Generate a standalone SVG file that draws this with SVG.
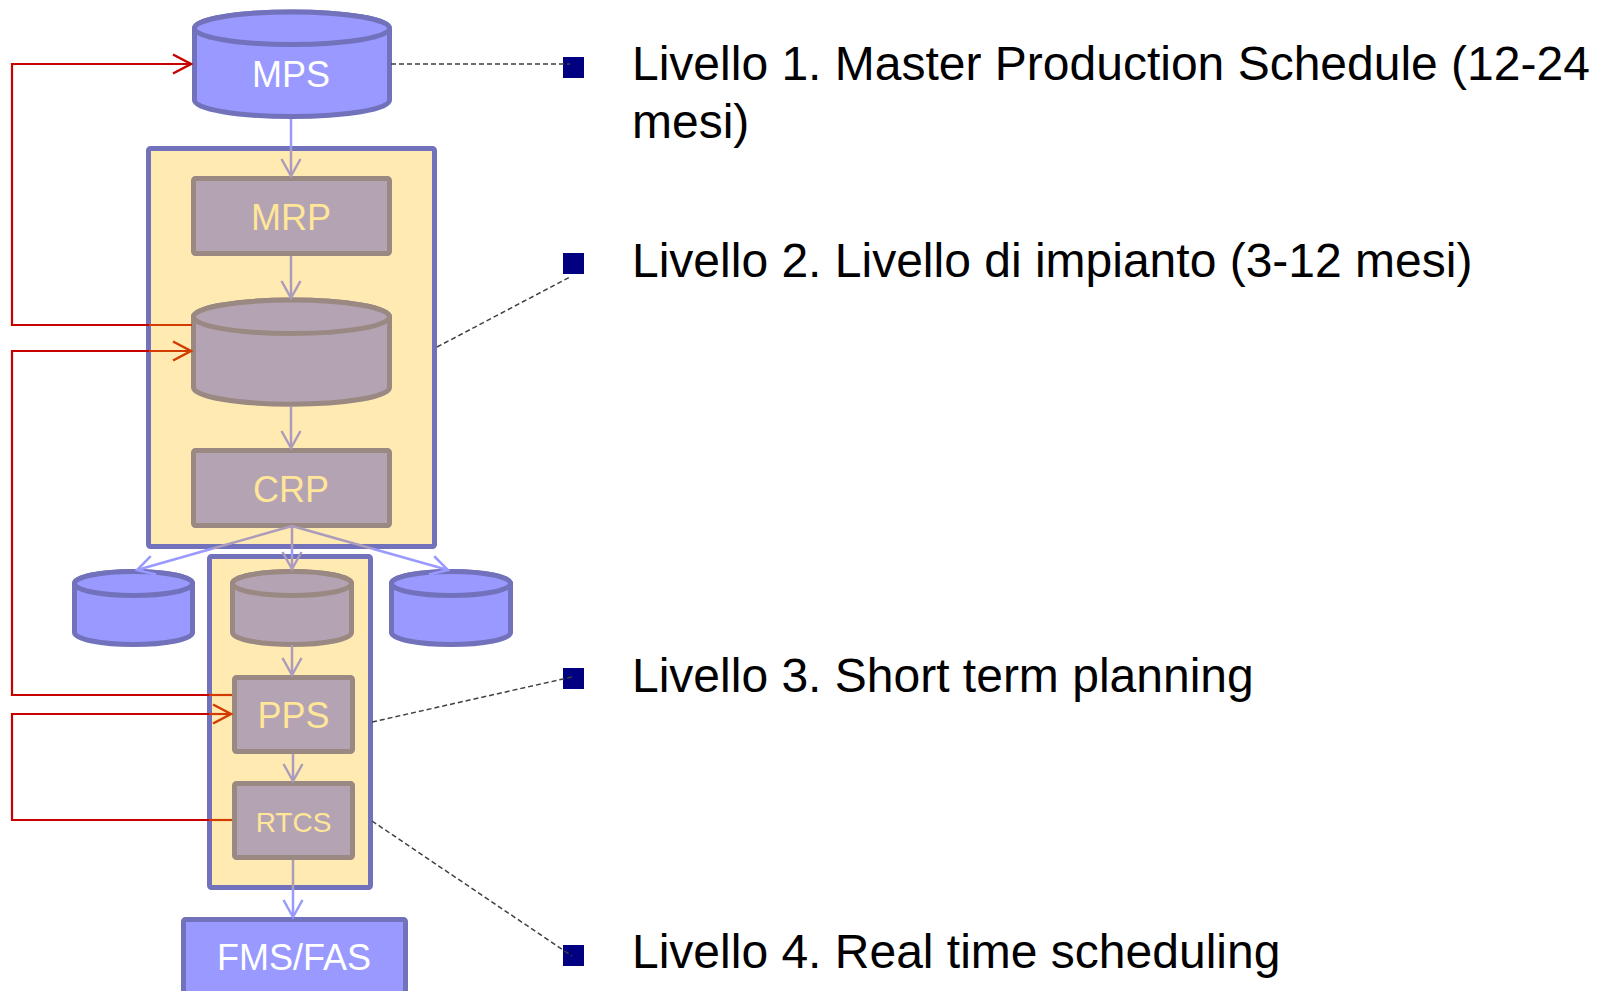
<svg xmlns="http://www.w3.org/2000/svg" width="1604" height="991" viewBox="0 0 1604 991">
<style>
.bluesh{fill:#9999FF;stroke:#7272BC;stroke-width:5;stroke-linejoin:round}
.greysh{fill:#B4A3B3;stroke:#9A8883;stroke-width:5;stroke-linejoin:round}
.frame{fill:#FFEAB2;stroke:#7272BC;stroke-width:5;stroke-linejoin:round}
.lw{font-family:"Liberation Sans",Arial,sans-serif;font-size:36px;fill:#FFFFFF;text-anchor:middle}
.ly{font-family:"Liberation Sans",Arial,sans-serif;font-size:36px;fill:#FFE699;text-anchor:middle}
.lbl{font-family:"Liberation Sans",Arial,sans-serif;font-size:48px;fill:#000000}
.bul{fill:#000080}
.cb{fill:none;stroke:#9999FF;stroke-width:2.5}
.cg{fill:none;stroke:#AC9CBC;stroke-width:2.5}
.cr{fill:none;stroke:#C80000;stroke-width:2.2}
.co{fill:none;stroke:#D23C00;stroke-width:2.2}
.dash{fill:none;stroke:#404040;stroke-width:1.5;stroke-dasharray:5 3}
</style>
<defs>
<marker id="mb" markerUnits="userSpaceOnUse" viewBox="-20 -12 24 24" markerWidth="24" markerHeight="24" refX="0" refY="0" orient="auto"><path d="M-17,-9.5 L0,0 L-17,9.5" fill="none" stroke="#9999FF" stroke-width="2.5"/></marker>
<marker id="mg" markerUnits="userSpaceOnUse" viewBox="-20 -12 24 24" markerWidth="24" markerHeight="24" refX="0" refY="0" orient="auto"><path d="M-17,-9.5 L0,0 L-17,9.5" fill="none" stroke="#AC9CBC" stroke-width="2.5"/></marker>
<marker id="mr" markerUnits="userSpaceOnUse" viewBox="-22 -12 26 24" markerWidth="26" markerHeight="24" refX="0" refY="0" orient="auto"><path d="M-18,-9.5 L0,0 L-18,9.5" fill="none" stroke="#C80000" stroke-width="2.5"/></marker>
<marker id="mo" markerUnits="userSpaceOnUse" viewBox="-22 -12 26 24" markerWidth="26" markerHeight="24" refX="0" refY="0" orient="auto"><path d="M-18,-9.5 L0,0 L-18,9.5" fill="none" stroke="#D23C00" stroke-width="2.5"/></marker>
</defs>
<rect width="1604" height="991" fill="#FFFFFF"/>

<g id="level2-frame"><rect class="frame" x="148.5" y="148.5" width="286" height="398" rx="2"/></g>
<g id="level3-frame"><rect class="frame" x="209.5" y="556.5" width="161" height="331" rx="2"/></g>

<g id="mps">
<path class="bluesh" d="M194.5,28.25 A97.5,16.25 0 0 1 389.5,28.25 V100.25 A97.5,16.25 0 0 1 194.5,100.25 Z"/>
<ellipse class="bluesh" cx="292" cy="28.25" rx="97.5" ry="16.25"/>
<text class="lw" x="291" y="87">MPS</text>
</g>

<g id="mrp">
<rect class="greysh" x="193.5" y="178.5" width="196" height="75" rx="2"/>
<text class="ly" x="291" y="229.5">MRP</text>
</g>

<g id="db-level2">
<path class="greysh" d="M193.5,316.8 A98,16.7 0 0 1 389.5,316.8 V387.5 A98,16.7 0 0 1 193.5,387.5 Z"/>
<ellipse class="greysh" cx="291.5" cy="316.8" rx="98" ry="16.7"/>
</g>

<g id="crp">
<rect class="greysh" x="193.5" y="450.5" width="196" height="75" rx="2"/>
<text class="ly" x="291" y="502">CRP</text>
</g>

<g id="db-left">
<path class="bluesh" d="M74.5,583.5 A59,12 0 0 1 192.5,583.5 V632.5 A59,12 0 0 1 74.5,632.5 Z"/>
<ellipse class="bluesh" cx="133.5" cy="583.5" rx="59" ry="12"/>
</g>
<g id="db-mid">
<path class="greysh" d="M232.5,583.5 A59.5,12 0 0 1 351.5,583.5 V632.5 A59.5,12 0 0 1 232.5,632.5 Z"/>
<ellipse class="greysh" cx="292" cy="583.5" rx="59.5" ry="12"/>
</g>
<g id="db-right">
<path class="bluesh" d="M391.5,583.5 A59.5,12 0 0 1 510.5,583.5 V632.5 A59.5,12 0 0 1 391.5,632.5 Z"/>
<ellipse class="bluesh" cx="451" cy="583.5" rx="59.5" ry="12"/>
</g>

<g id="pps">
<rect class="greysh" x="234.5" y="677.5" width="118" height="74" rx="2"/>
<text class="ly" x="293.5" y="728">PPS</text>
</g>

<g id="rtcs">
<rect class="greysh" x="234.5" y="783.5" width="118" height="74" rx="2"/>
<text class="ly" x="293.5" y="832" style="font-size:28px">RTCS</text>
</g>

<g id="fms-fas">
<rect class="bluesh" x="183.5" y="919.5" width="222" height="90" rx="2"/>
<text class="lw" x="294" y="970">FMS/FAS</text>
</g>

<g id="labels">
<rect class="bul" x="563" y="57" width="21" height="21"/>
<text class="lbl" x="632" y="80">Livello 1. Master Production Schedule (12-24</text>
<text class="lbl" x="632" y="138">mesi)</text>
<rect class="bul" x="563" y="253" width="21" height="21"/>
<text class="lbl" x="632" y="277">Livello 2. Livello di impianto (3-12 mesi)</text>
<rect class="bul" x="563" y="668" width="21" height="21"/>
<text class="lbl" x="632" y="692">Livello 3. Short term planning</text>
<rect class="bul" x="563" y="945" width="21" height="21"/>
<text class="lbl" x="632" y="968">Livello 4. Real time scheduling</text>
</g>

<g id="connectors">
<path class="cb" d="M291,119 V148"/>
<path class="cg" d="M291,148 V176" marker-end="url(#mg)"/>
<path class="cg" d="M291,256 V298" marker-end="url(#mg)"/>
<path class="cg" d="M291,406 V448" marker-end="url(#mg)"/>
<path class="cg" d="M292,526 L212.7,548.5"/>
<path class="cb" d="M212.7,548.5 L137,570" marker-end="url(#mb)"/>
<path class="cg" d="M292,526 L371.8,548.5"/>
<path class="cb" d="M371.8,548.5 L448,570" marker-end="url(#mb)"/>
<path class="cg" d="M292,526 V549"/>
<path class="cb" d="M292,549 V556"/>
<path class="cg" d="M292,556 V569" marker-end="url(#mg)"/>
<path class="cg" d="M292,645 V675" marker-end="url(#mg)"/>
<path class="cg" d="M293,754 V781" marker-end="url(#mg)"/>
<path class="cg" d="M293,860 V889"/>
<path class="cb" d="M293,889 V917" marker-end="url(#mb)"/>

<path class="co" d="M192,325 H149"/>
<path class="cr" d="M149,325 H12 V64 H191" marker-end="url(#mr)"/>
<path class="co" d="M232,695 H209"/>
<path class="cr" d="M209,695 H12 V351 H149"/>
<path class="co" d="M149,351 H191" marker-end="url(#mo)"/>
<path class="co" d="M232,820 H209"/>
<path class="cr" d="M209,820 H12 V714 H209"/>
<path class="co" d="M209,714 H231" marker-end="url(#mo)"/>

<path class="dash" d="M391,64 H570"/>
<path class="dash" d="M437,347 L570,277"/>
<path class="dash" d="M372,722 L572,677"/>
<path class="dash" d="M372,821 L572,956"/>
</g>
</svg>
